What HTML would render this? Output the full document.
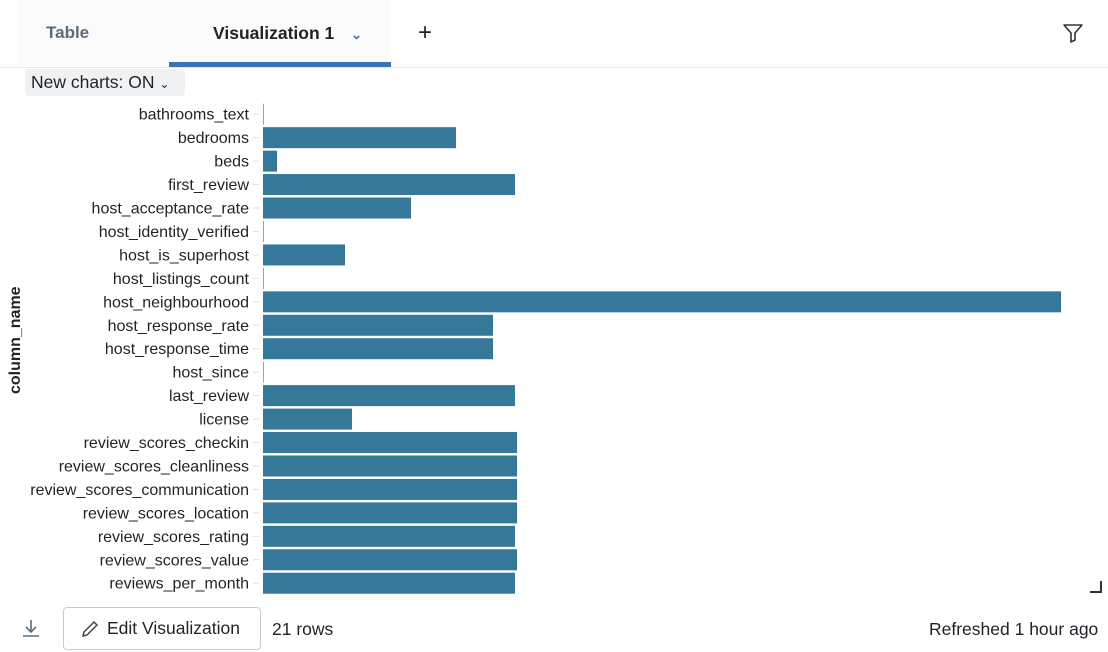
<!DOCTYPE html>
<html><head><meta charset="utf-8"><style>
body{margin:0;width:1108px;height:652px;background:#fff;font-family:"Liberation Sans",sans-serif;position:relative;overflow:hidden;color:#1f2328}
.abs{position:absolute}
</style></head><body>
<div class="abs" style="left:0;top:0;width:1108px;height:67px;border-bottom:1px solid #e6e8eb"></div>
<div class="abs" style="left:18px;top:0;width:372px;height:66px;background:#fbfbfb"></div>
<div class="abs" style="left:46px;top:23px;font-size:17px;font-weight:bold;color:#5f6b7a">Table</div>
<div class="abs" style="left:213px;top:23px;font-size:17.5px;font-weight:bold;color:#1f2328">Visualization 1 <span style="color:#3a6fb0;font-size:13px;margin-left:12px">&#8964;</span></div>
<div class="abs" style="left:169px;top:62px;width:222px;height:5px;background:#3a72b8"></div>
<div class="abs" style="left:418px;top:19px;font-size:24px">+</div>
<svg class="abs" style="left:1062px;top:22px" width="22" height="22" viewBox="0 0 22 22"><path d="M2 3h18l-7 8v7l-4 2v-9z" fill="none" stroke="#333" stroke-width="1.6" stroke-linejoin="round"/></svg>
<div class="abs" style="left:25px;top:69px;width:160px;height:27px;background:#f0f1f3;border-radius:4px;font-size:17.5px;line-height:27px;padding-left:6px;box-sizing:border-box">New charts: ON <span style="font-size:12px">&#8964;</span></div>
<div class="abs" style="left:-29px;top:340px;transform:rotate(-90deg);font-size:16px;font-weight:bold;width:90px;text-align:center">column_name</div>
<svg id="chart" class="abs" style="left:0;top:0" width="1108" height="600"></svg>
<div class="abs" style="left:1090px;top:581px;width:12px;height:12px;border-right:2px solid #333;border-bottom:2px solid #333;box-sizing:border-box"></div>
<svg class="abs" style="left:20px;top:617px" width="22" height="22" viewBox="0 0 22 22"><path d="M11 3v12M6 10l5 5 5-5M3 19h16" fill="none" stroke="#5f6b7a" stroke-width="1.6"/></svg>
<div class="abs" style="left:63px;top:607px;width:198px;height:43px;border:1px solid #c8ccd2;border-radius:4px;box-sizing:border-box;font-size:17.5px;line-height:41px;padding-left:43px">Edit Visualization</div>
<svg class="abs" style="left:79px;top:618px" width="22" height="22" viewBox="0 0 22 22"><path d="M4 18l1-4L15 4l3 3L8 17z" fill="none" stroke="#444" stroke-width="1.5"/></svg>
<div class="abs" style="left:272px;top:619px;font-size:17.5px">21 rows</div>
<div class="abs" style="left:929px;top:619px;font-size:17.5px">Refreshed 1 hour ago</div>
<script>
const categories=["bathrooms_text","bedrooms","beds","first_review","host_acceptance_rate","host_identity_verified","host_is_superhost","host_listings_count","host_neighbourhood","host_response_rate","host_response_time","host_since","last_review","license","review_scores_checkin","review_scores_cleanliness","review_scores_communication","review_scores_location","review_scores_rating","review_scores_value","reviews_per_month"];
const values=[0.5,193,14,252,148,0.5,82,0.5,798,230,230,0.5,252,89,254,254,254,254,252,254,252];
const xMax=798;
const svg=document.getElementById('chart');
const NS='http://www.w3.org/2000/svg';
const x0=263,x1=1061,yTop=102.5,step=23.45,bh=21;
const xs=v=>x0+(v/xMax)*(x1-x0);
categories.forEach((c,i)=>{
  const cy=yTop+step*(i+0.5);
  const t=document.createElementNS(NS,'text');
  
  
  t.setAttribute('x',249);t.setAttribute('y',cy+5.5);t.setAttribute('text-anchor','end');
  t.setAttribute('font-size','16');t.setAttribute('font-family','Liberation Sans, sans-serif');t.setAttribute('fill','#1f2328');
  t.textContent=c;svg.appendChild(t);
  const tk=document.createElementNS(NS,'line');
  
  
  tk.setAttribute('x1',253);tk.setAttribute('x2',259);tk.setAttribute('y1',cy);tk.setAttribute('y2',cy);tk.setAttribute('stroke','#ddd');
  svg.appendChild(tk);
  const r=document.createElementNS(NS,'rect');
  
  
  const w=Math.max(1,xs(values[i])-x0);
  r.setAttribute('x',x0);r.setAttribute('y',cy-bh/2);r.setAttribute('width',w);r.setAttribute('height',bh);
  r.setAttribute('fill',values[i]<1?'#8aa7bb':'#35789a');
  svg.appendChild(r);
});
</script>
</body></html>
